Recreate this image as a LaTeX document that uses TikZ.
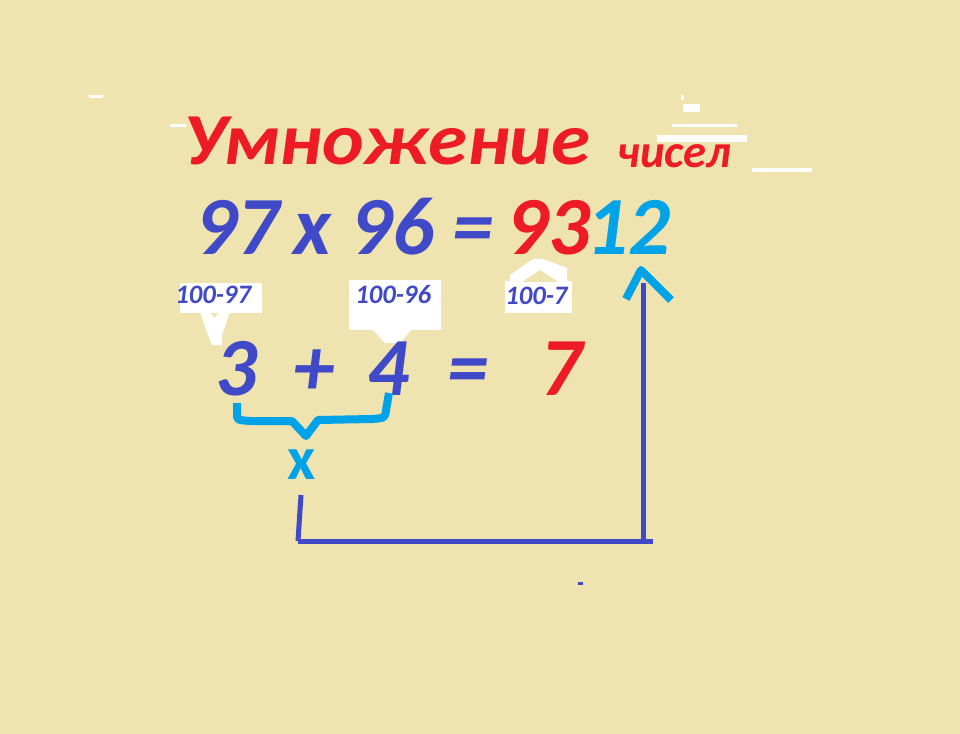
\documentclass[tikz,border=0pt]{standalone}
\usepackage{fontspec}
\setmainfont{Carlito}
\usetikzlibrary{positioning}
\definecolor{bgyel}{RGB}{239,227,176}
\definecolor{blu}{RGB}{64,73,200}
\definecolor{rd}{RGB}{237,28,36}
\definecolor{cyn}{RGB}{0,162,232}
\begin{document}
\begin{tikzpicture}[x=0.75pt,y=-0.75pt,
    txt/.style={inner sep=0, anchor=base west},
    big/.style={txt, font=\fontsize{62}{62}\selectfont\bfseries\itshape},
    lbl/.style={txt, blu, font=\fontsize{20}{20}\selectfont\bfseries\itshape},
    bluline/.style={blu, line width=3.75pt},
    cynline/.style={cyn, line width=6pt, line join=round}]
      \fill[bgyel] (0,0) rectangle (960,734);
      \useasboundingbox (0,0) rectangle (960,734);
      % white specks
      \fill[white] (89,95) rectangle (103,98);
      \fill[white] (170,124) rectangle (186,127);
      \fill[white] (681,95) rectangle (684,100);
      \fill[white] (683,104) rectangle (700,112);
      \fill[white] (672,124) rectangle (737,127);
      \fill[white] (657,135) rectangle (747,142);
      \fill[white] (752,168) rectangle (812,172);
      \fill[blu] (578,582) rectangle (583,585);
      % title
      \node[big, rd, font=\fontsize{55}{55}\selectfont\bfseries\itshape] (title) at (183,165) {\scalebox{1.08}[1]{Умножение}};
      \node[big, rd, font=\fontsize{35}{35}\selectfont\bfseries\itshape] (sub) at (617,168) {чисел};
      % first row
      \node[big, blu] (n97) at (195,255) {97};
      \node[big, blu] (times) at (293,255) {x};
      \node[big, blu] (n96) at (350,255) {96};
      \node[big, blu] (eqa) at (452,255) {=};
      \node[big, rd] (n93) at (506,255) {93};
      \node[big, cyn] (n12) at (586,255) {12};
      % callout boxes
      \fill[white] (180,283) rectangle (262,313);
      \fill[white] (200,312) -- (230,312) -- (222,335) -- (222,345) -- (212,345) -- (208,335) -- cycle;
      \fill[bgyel] (211,313) -- (218,313) -- (214.5,318) -- cycle;
      \fill[white] (349,280) rectangle (441,330);
      \fill[white] (372,329) -- (412,329) -- (400,343) -- (385,343) -- cycle;
      \fill[white] (505,281) rectangle (572,313);
      \fill[white] (510,282) -- (510,275) -- (533,259) -- (543,259) -- (567,268) -- (567,282) -- cycle;
      \fill[bgyel] (522,282) -- (540,270) -- (558,282) -- cycle;
      \node[lbl] (lab97) at (175,303) {100-97};
      \node[lbl] (lab96) at (355,303) {100-96};
      \node[lbl] (lab7) at (505,305) {100-7};
      % second row
      \node[big, blu] (d3) at (215,395) {3};
      \node[big, blu] (plus) at (293,395) {+};
      \node[big, blu] (d4) at (367,395) {4};
      \node[big, blu] (eqb) at (447,395) {=};
      \node[big, rd] (d7) at (540,395) {7};
      % brace and product sign
      \draw[cynline] (237,403) -- (237,414) .. controls (237,420) .. (250,421) -- (292,421) -- (306,436) -- (318,420) -- (372,419) .. controls (385,418) .. (386,410) -- (389,393);
      \node[txt, cyn, font=\fontsize{46}{46}\selectfont\bfseries] (mul) at (287,479) {x};
      % path to the result
      \coordinate (startL) at (301,495);
      \coordinate (lowL) at (298,541);
      \coordinate (lowR) at (643,541);
      \coordinate (endR) at (653,541);
      \coordinate (topR) at (643,283);
      \draw[bluline] (startL) -- (lowL);
      \draw[bluline] (lowL) -- (endR);
      \draw[bluline] (lowR) -- (topR);
      \draw[cynline] (626,299) -- (641,270) -- (671,300);
\end{tikzpicture}
\end{document}
